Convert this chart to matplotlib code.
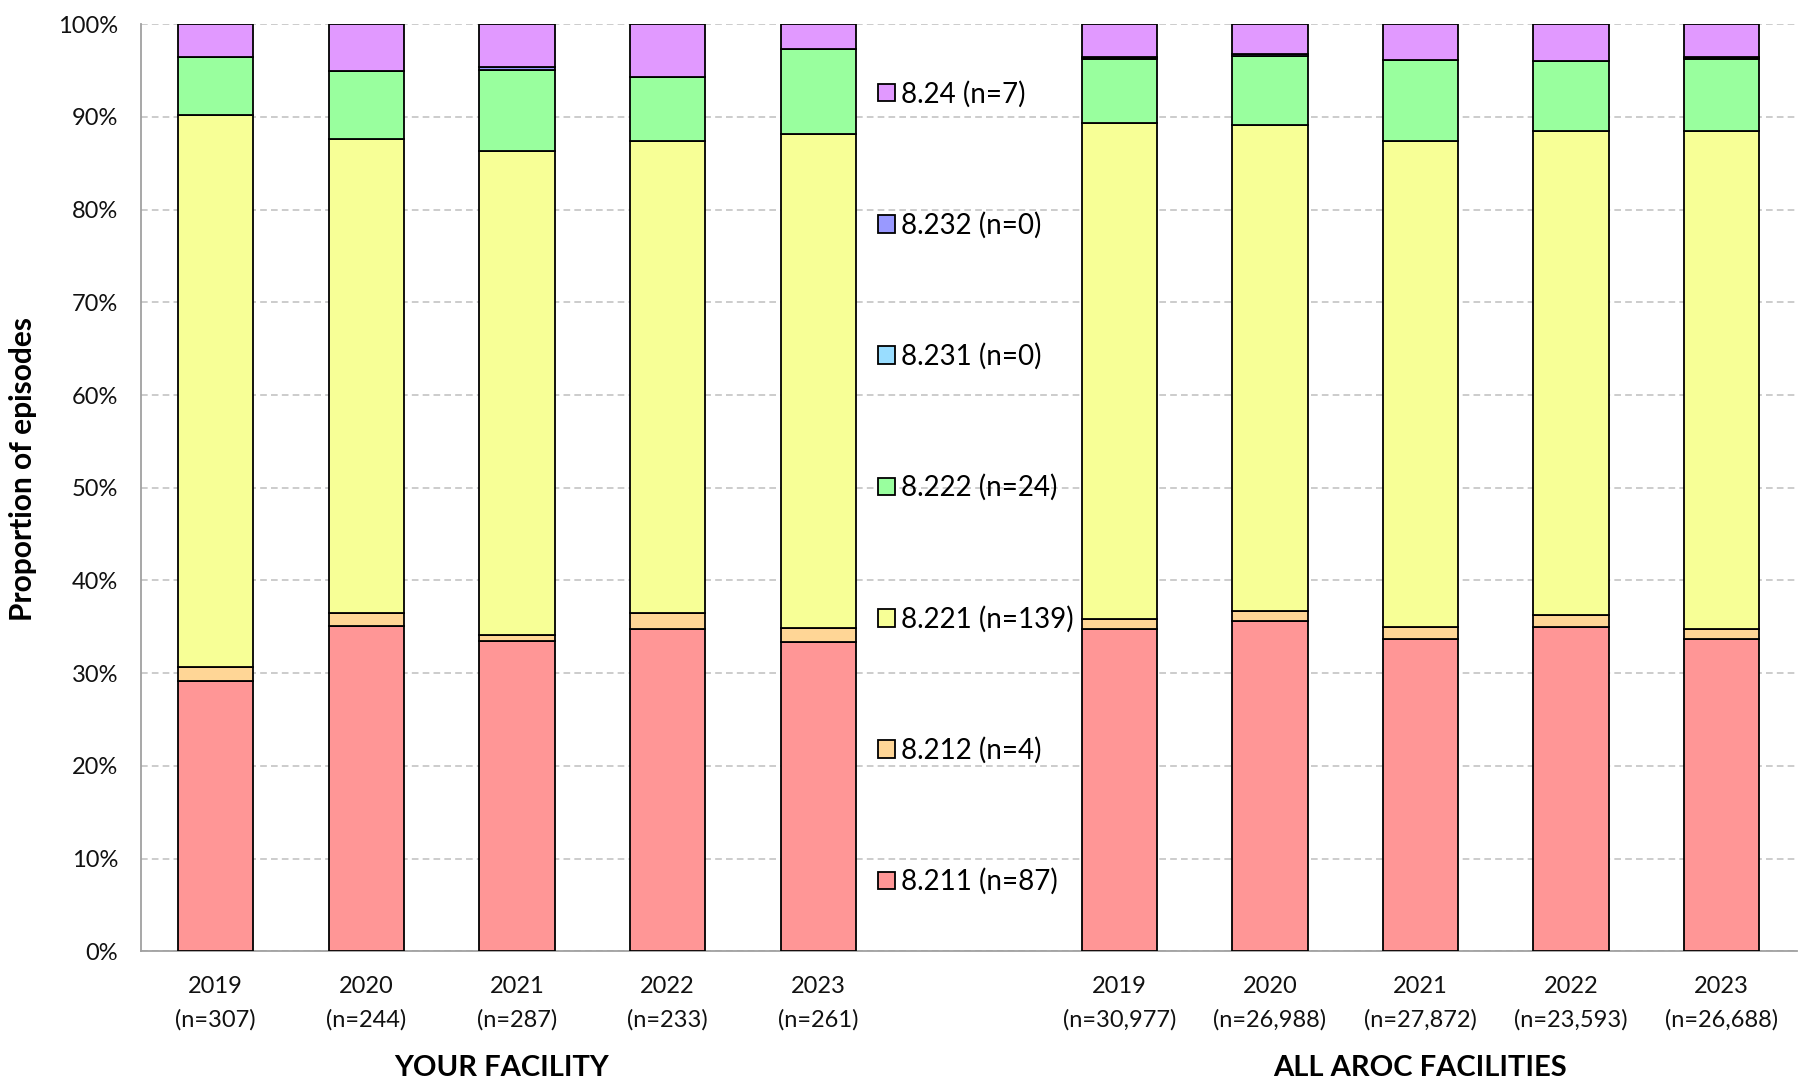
import matplotlib
matplotlib.use("Agg")
import matplotlib.pyplot as plt
import numpy as np
from matplotlib.transforms import blended_transform_factory

plt.rcParams['font.family'] = ['Lato', 'DejaVu Sans']

# ---- data (percent of episodes) ----
years = ["2019", "2020", "2021", "2022", "2023"]
facility_n = ["307", "244", "287", "233", "261"]
all_n = ["30,977", "26,988", "27,872", "23,593", "26,688"]

categories = ["8.211", "8.212", "8.221", "8.222", "8.231", "8.232", "8.24"]
legend_counts = [87, 4, 139, 24, 0, 0, 7]
colors = ["#FF9696", "#FFD696", "#F7FF96", "#99FF9E", "#99DDFF", "#9999FF", "#E199FF"]

# your facility, one list per category (2019..2023)
fac_8211 = [29.13, 35.14, 33.48, 34.78, 33.33]
fac_8212 = [1.52, 1.38, 0.69, 1.74, 1.53]
fac_8221 = [59.55, 51.08, 52.13, 50.88, 53.26]
fac_8222 = [6.30, 7.40, 8.75, 6.95, 9.20]
fac_8231 = [0.0, 0.0, 0.0, 0.0, 0.0]
fac_8232 = [0.0, 0.0, 0.35, 0.0, 0.0]
fac_824 = [3.50, 5.00, 4.60, 5.65, 2.68]

# all AROC facilities
all_8211 = [34.78, 35.65, 33.66, 35.00, 33.66]
all_8212 = [1.09, 1.09, 1.34, 1.30, 1.09]
all_8221 = [53.43, 52.39, 52.40, 52.18, 53.73]
all_8222 = [6.97, 7.39, 8.70, 7.57, 7.79]
all_8231 = [0.08, 0.08, 0.0, 0.0, 0.08]
all_8232 = [0.15, 0.18, 0.0, 0.0, 0.15]
all_824 = [3.50, 3.22, 3.90, 3.95, 3.50]

fac = np.array([fac_8211, fac_8212, fac_8221, fac_8222, fac_8231, fac_8232, fac_824])
allf = np.array([all_8211, all_8212, all_8221, all_8222, all_8231, all_8232, all_824])
values = np.hstack([fac, allf])

x_pos = np.array([0, 1, 2, 3, 4, 6, 7, 8, 9, 10])
xlabels = [f"{y}\n(n={n})" for y, n in zip(years, facility_n)] + \
          [f"{y}\n(n={n})" for y, n in zip(years, all_n)]

# ---- plot ----
fig = plt.figure(figsize=(18.06, 10.89), dpi=100)
ax = fig.add_axes([0.0778, 0.1264, 0.9172, 0.8514])

bottom = np.zeros(len(x_pos))
handles = []
for cat, cnt, col, vals in zip(categories, legend_counts, colors, values):
    h = ax.bar(x_pos, vals, width=0.5, bottom=bottom, color=col,
               edgecolor="black", linewidth=1.3, label=f"{cat} (n={cnt})", zorder=3)
    handles.append(h)
    bottom += vals

ax.set_xlim(-0.5, 10.5)
ax.set_ylim(0, 100)
ax.set_yticks(np.arange(0, 101, 10))
ax.set_yticklabels([f"{v}%" for v in range(0, 101, 10)])
ax.set_xticks(x_pos)
ax.set_xticklabels(xlabels, linespacing=1.65)
ax.tick_params(axis="both", length=0, labelsize=17, colors="#111111")
ax.tick_params(axis="x", pad=18)
ax.tick_params(axis="y", pad=16)

ax.yaxis.grid(True, linestyle=(0, (4, 2.5)), color="#c4c4c4", linewidth=1.2, zorder=0)
ax.set_axisbelow(True)
for s in ["top", "right"]:
    ax.spines[s].set_visible(False)
for s in ["left", "bottom"]:
    ax.spines[s].set_color("#a0a0a0")
    ax.spines[s].set_linewidth(1.3)

ax.set_ylabel("Proportion of episodes", fontsize=21.5, fontweight="bold")
ax.yaxis.set_label_coords(-0.0625, 0.52)

trans = blended_transform_factory(ax.transData, ax.transAxes)
ax.text(1.9, -0.126, "YOUR FACILITY", transform=trans, ha="center", va="center",
        fontsize=21, fontweight="bold")
ax.text(8, -0.126, "ALL AROC FACILITIES", transform=trans, ha="center", va="center",
        fontsize=21, fontweight="bold")

leg = ax.legend(handles[::-1], [h.get_label() for h in handles[::-1]],
                loc="center left", bbox_to_anchor=(0.4455, 0.5), frameon=False,
                fontsize=20, handlelength=0.6, handleheight=0.6, handletextpad=0.2,
                labelspacing=3.76, borderpad=0, borderaxespad=0)

fig.savefig("out.png", dpi=100)
